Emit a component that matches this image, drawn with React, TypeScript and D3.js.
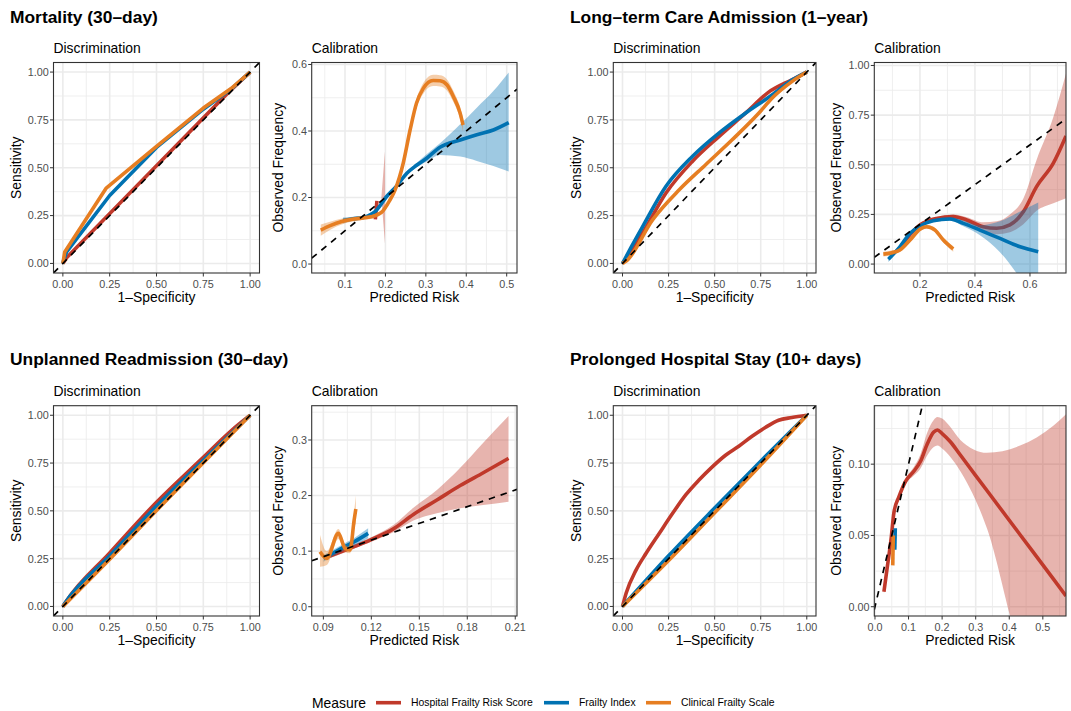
import React from 'react';
import * as d3 from 'd3';

// measures and colours
const measures = ['Hospital Frailty Risk Score', 'Frailty Index', 'Clinical Frailty Scale'];
const colours = ['#C0392B', '#0072B2', '#E67E22'];
const outcomes = ['Mortality (30–day)', 'Long–term Care Admission (1–year)', 'Unplanned Readmission (30–day)', 'Prolonged Hospital Stay (10+ days)'];

// tick values
const rocTicks = [0, 0.25, 0.5, 0.75, 1];
const mortCalXTicks = [0.1, 0.2, 0.3, 0.4, 0.5];
const mortCalYTicks = [0, 0.2, 0.4, 0.6];
const ltcCalXTicks = [0.2, 0.4, 0.6];
const ltcCalYTicks = [0, 0.25, 0.5, 0.75, 1];
const readCalXTicks = [0.09, 0.12, 0.15, 0.18, 0.21];
const readCalYTicks = [0, 0.1, 0.2, 0.3];
const prolCalXTicks = [0, 0.1, 0.2, 0.3, 0.4, 0.5];
const prolCalYTicks = [0, 0.05, 0.1];

// Mortality - ROC
const mortRocHfrsX = [0, 0.02, 0.5, 0.88, 1];
const mortRocHfrsY = [0, 0.03, 0.51, 0.89, 1];
const mortRocFiX = [0, 0.005, 0.02, 0.25, 0.5, 0.75, 0.9, 1];
const mortRocFiY = [0, 0.02, 0.06, 0.355, 0.606, 0.806, 0.912, 1];
const mortRocCfsX = [0, 0.005, 0.01, 0.23, 0.5, 0.75, 0.9, 1];
const mortRocCfsY = [0, 0.03, 0.06, 0.392, 0.612, 0.812, 0.915, 1];

// Mortality - calibration
const mortCalHfrsX = [0.175, 0.177, 0.179];
const mortCalHfrsY = [0.134, 0.162, 0.19];
const mortCalHfrsBandX = [0.19, 0.195, 0.199];
const mortCalHfrsLo = [0.2, 0.12, 0.06];
const mortCalHfrsHi = [0.2, 0.28, 0.34];
const mortCalFiX = [0.095, 0.12, 0.145, 0.178, 0.203, 0.228, 0.253, 0.277, 0.302, 0.335, 0.385, 0.426, 0.467, 0.505];
const mortCalFiY = [0.131, 0.136, 0.14, 0.162, 0.203, 0.235, 0.273, 0.297, 0.318, 0.351, 0.373, 0.389, 0.403, 0.425];
const mortCalFiLo = [0.122, 0.13, 0.134, 0.156, 0.197, 0.229, 0.267, 0.29, 0.308, 0.328, 0.323, 0.31, 0.295, 0.278];
const mortCalFiHi = [0.14, 0.142, 0.146, 0.168, 0.209, 0.241, 0.279, 0.304, 0.33, 0.363, 0.42, 0.47, 0.52, 0.576];
const mortCalCfsX = [0.04, 0.065, 0.09, 0.115, 0.14, 0.165, 0.19, 0.21, 0.224, 0.244, 0.261, 0.277, 0.294, 0.318, 0.335, 0.352, 0.368, 0.385, 0.392];
const mortCalCfsY = [0.102, 0.116, 0.127, 0.134, 0.138, 0.142, 0.155, 0.19, 0.223, 0.303, 0.403, 0.484, 0.529, 0.552, 0.551, 0.539, 0.504, 0.453, 0.418];
const mortCalCfsLo = [0.085, 0.104, 0.118, 0.127, 0.132, 0.136, 0.148, 0.183, 0.216, 0.294, 0.392, 0.471, 0.513, 0.535, 0.534, 0.522, 0.487, 0.435, 0.398];
const mortCalCfsHi = [0.119, 0.128, 0.136, 0.141, 0.144, 0.148, 0.162, 0.197, 0.23, 0.312, 0.414, 0.497, 0.545, 0.569, 0.568, 0.556, 0.521, 0.471, 0.438];

// Long-term care - ROC
const ltcRocHfrsX = [0, 0.05, 0.11, 0.236, 0.379, 0.523, 0.667, 0.793, 0.919, 1];
const ltcRocHfrsY = [0, 0.07, 0.16, 0.368, 0.533, 0.663, 0.785, 0.895, 0.96, 1];
const ltcRocFiX = [0, 0.05, 0.11, 0.236, 0.379, 0.523, 0.667, 0.811, 0.919, 1];
const ltcRocFiY = [0, 0.09, 0.194, 0.403, 0.559, 0.681, 0.785, 0.88, 0.958, 1];
const ltcRocCfsX = [0, 0.02, 0.164, 0.308, 0.451, 0.595, 0.739, 0.811, 0.919, 1];
const ltcRocCfsY = [0, 0.012, 0.229, 0.385, 0.516, 0.646, 0.785, 0.863, 0.95, 1];

// Long-term care - calibration
const ltcCalHfrsX = [0.127, 0.165, 0.2, 0.261, 0.321, 0.37, 0.43, 0.479, 0.527, 0.576, 0.624, 0.685, 0.731];
const ltcCalHfrsY = [0.079, 0.15, 0.197, 0.23, 0.239, 0.222, 0.188, 0.18, 0.197, 0.264, 0.39, 0.508, 0.645];
const ltcCalHfrsLo = [0.07, 0.14, 0.19, 0.222, 0.228, 0.208, 0.165, 0.15, 0.16, 0.2, 0.268, 0.306, 0.331];
const ltcCalHfrsHi = [0.088, 0.16, 0.205, 0.238, 0.25, 0.236, 0.21, 0.215, 0.25, 0.33, 0.524, 0.74, 0.96];
const ltcCalFiX = [0.085, 0.127, 0.164, 0.2, 0.248, 0.309, 0.358, 0.418, 0.491, 0.564, 0.63];
const ltcCalFiY = [0.024, 0.087, 0.155, 0.192, 0.218, 0.227, 0.205, 0.171, 0.129, 0.087, 0.062];
const ltcCalFiLo = [0.01, 0.077, 0.147, 0.185, 0.211, 0.218, 0.19, 0.145, 0.06, -0.07, -0.2];
const ltcCalFiHi = [0.038, 0.097, 0.163, 0.199, 0.225, 0.236, 0.22, 0.195, 0.215, 0.265, 0.31];
const ltcCalCfsX = [0.067, 0.097, 0.127, 0.164, 0.2, 0.224, 0.255, 0.285, 0.321];
const ltcCalCfsY = [0.05, 0.057, 0.071, 0.121, 0.175, 0.188, 0.171, 0.121, 0.076];
const ltcCalCfsLo = [0.038, 0.046, 0.061, 0.111, 0.165, 0.178, 0.16, 0.109, 0.062];
const ltcCalCfsHi = [0.062, 0.068, 0.081, 0.131, 0.185, 0.198, 0.182, 0.133, 0.09];

// Readmission - ROC
const readRocHfrsX = [0, 0.02, 0.25, 0.5, 0.75, 0.9, 1];
const readRocHfrsY = [0, 0.03, 0.28, 0.545, 0.78, 0.92, 1];
const readRocFiX = [0, 0.01, 0.25, 0.5, 0.75, 1];
const readRocFiY = [0, 0.015, 0.265, 0.525, 0.765, 1];
const readRocCfsX = [0, 0.25, 0.5, 0.75, 1];
const readRocCfsY = [0, 0.247, 0.502, 0.752, 1];

// Readmission - calibration
const readCalHfrsX = [0.094, 0.1046, 0.1192, 0.1338, 0.1463, 0.161, 0.1756, 0.19, 0.2058];
const readCalHfrsY = [0.091, 0.103, 0.12, 0.14, 0.166, 0.192, 0.218, 0.241, 0.267];
const readCalHfrsLo = [0.087, 0.099, 0.116, 0.134, 0.155, 0.168, 0.177, 0.183, 0.189];
const readCalHfrsHi = [0.095, 0.107, 0.124, 0.147, 0.178, 0.21, 0.25, 0.295, 0.343];
const readCalFiX = [0.0901, 0.1, 0.11, 0.118];
const readCalFiY = [0.087, 0.103, 0.118, 0.132];
const readCalFiLo = [0.081, 0.097, 0.111, 0.123];
const readCalFiHi = [0.093, 0.109, 0.125, 0.141];
const readCalCfsX = [0.0879, 0.0921, 0.0994, 0.1036, 0.1067, 0.1092, 0.1103];
const readCalCfsY = [0.099, 0.087, 0.132, 0.105, 0.102, 0.155, 0.176];
const readCalCfsLo = [0.072, 0.075, 0.122, 0.098, 0.096, 0.14, 0.15];
const readCalCfsHi = [0.129, 0.1, 0.14, 0.112, 0.108, 0.17, 0.2];

// Prolonged stay - ROC
const prolRocHfrsX = [0, 0.02, 0.074, 0.128, 0.2, 0.272, 0.343, 0.415, 0.487, 0.559, 0.631, 0.703, 0.775, 0.847, 0.919, 1];
const prolRocHfrsY = [0, 0.07, 0.191, 0.278, 0.383, 0.487, 0.583, 0.661, 0.73, 0.791, 0.838, 0.89, 0.936, 0.974, 0.988, 1];
const prolRocFiX = [0, 0.25, 0.5, 0.75, 1];
const prolRocFiY = [0, 0.265, 0.515, 0.76, 1];
const prolRocCfsX = [0, 0.25, 0.5, 0.75, 1];
const prolRocCfsY = [0, 0.24, 0.49, 0.74, 1];

// Prolonged stay - calibration
const prolCalHfrsX = [0.0267, 0.0368, 0.0487, 0.0564, 0.0712, 0.0911, 0.1157, 0.1356, 0.1555, 0.1751, 0.186, 0.2, 0.2246, 0.2543, 0.3335, 0.4323, 0.5312, 0.569];
const prolCalHfrsY = [0.0105, 0.028, 0.049, 0.066, 0.077, 0.088, 0.095, 0.102, 0.114, 0.1225, 0.124, 0.1215, 0.1157, 0.1064, 0.0815, 0.0505, 0.0195, 0.0076];
const prolCalHfrsLo = [0.009, 0.026, 0.047, 0.064, 0.075, 0.086, 0.092, 0.097, 0.106, 0.112, 0.113, 0.111, 0.105, 0.095, 0.055, -0.03, -0.07, -0.09];
const prolCalHfrsHi = [0.012, 0.03, 0.051, 0.068, 0.079, 0.09, 0.098, 0.107, 0.122, 0.131, 0.133, 0.132, 0.126, 0.117, 0.108, 0.113, 0.127, 0.135];
const prolCalFiX = [0.059, 0.0605];
const prolCalFiY = [0.04, 0.055];
const prolCalCfsX = [0.053, 0.0545];
const prolCalCfsY = [0.029, 0.05];

const W = 1071;
const H = 711;
const FONT = '"Liberation Sans", Arial, Helvetica, sans-serif';

type Series = { m: number; x: number[]; y: number[]; bx?: number[]; lo?: number[]; hi?: number[] };
type Spec = {
  id: string; left: number; right: number; top: number; bottom: number;
  xDom: [number, number]; yDom: [number, number];
  xTicks: number[]; yTicks: number[]; xFmt: (v: number) => string; yFmt: (v: number) => string;
  sub: string; xTitle: string; yTitle: string; yTitleX: number; smooth: boolean; series: Series[];
};

const f1 = d3.format('.1f');
const f2 = d3.format('.2f');
const cols = [[53.5, 259.5], [311.7, 517], [613.3, 816], [874.3, 1066]];
const rows = [[62.5, 273], [405.7, 616]];
const rocDom: [number, number] = [-0.05, 1.05];

const roc = (id: string, c: number, r: number, smooth: boolean, s: Series[]): Spec => ({
  id, left: cols[c][0], right: cols[c][1], top: rows[r][0], bottom: rows[r][1],
  xDom: rocDom, yDom: rocDom, xTicks: rocTicks, yTicks: rocTicks, xFmt: f2, yFmt: f2,
  sub: 'Discrimination', xTitle: '1–Specificity', yTitle: 'Sensitivity', yTitleX: cols[c][0] - 32.8, smooth, series: s,
});
const cal = (id: string, c: number, r: number, xDom: [number, number], yDom: [number, number], xT: number[], yT: number[], xF: any, yF: any, yTitleX: number, s: Series[]): Spec => ({
  id, left: cols[c][0], right: cols[c][1], top: rows[r][0], bottom: rows[r][1],
  xDom, yDom, xTicks: xT, yTicks: yT, xFmt: xF, yFmt: yF,
  sub: 'Calibration', xTitle: 'Predicted Risk', yTitle: 'Observed Frequency', yTitleX, smooth: true, series: s,
});

const panels: Spec[] = [
  roc('p1', 0, 0, false, [
    { m: 0, x: mortRocHfrsX, y: mortRocHfrsY },
    { m: 1, x: mortRocFiX, y: mortRocFiY },
    { m: 2, x: mortRocCfsX, y: mortRocCfsY },
  ]),
  cal('p2', 1, 0, [0.0176, 0.5255], [-0.027, 0.606], mortCalXTicks, mortCalYTicks, f1, f1, 283, [
    { m: 0, x: mortCalHfrsX, y: mortCalHfrsY, bx: mortCalHfrsBandX, lo: mortCalHfrsLo, hi: mortCalHfrsHi },
    { m: 1, x: mortCalFiX, y: mortCalFiY, lo: mortCalFiLo, hi: mortCalFiHi },
    { m: 2, x: mortCalCfsX, y: mortCalCfsY, lo: mortCalCfsLo, hi: mortCalCfsHi },
  ]),
  roc('p3', 2, 0, true, [
    { m: 0, x: ltcRocHfrsX, y: ltcRocHfrsY },
    { m: 1, x: ltcRocFiX, y: ltcRocFiY },
    { m: 2, x: ltcRocCfsX, y: ltcRocCfsY },
  ]),
  cal('p4', 3, 0, [0.034, 0.731], [-0.045, 1.015], ltcCalXTicks, ltcCalYTicks, f1, f2, 841, [
    { m: 0, x: ltcCalHfrsX, y: ltcCalHfrsY, lo: ltcCalHfrsLo, hi: ltcCalHfrsHi },
    { m: 1, x: ltcCalFiX, y: ltcCalFiY, lo: ltcCalFiLo, hi: ltcCalFiHi },
    { m: 2, x: ltcCalCfsX, y: ltcCalCfsY, lo: ltcCalCfsLo, hi: ltcCalCfsHi },
  ]),
  roc('p5', 0, 1, true, [
    { m: 0, x: readRocHfrsX, y: readRocHfrsY },
    { m: 1, x: readRocFiX, y: readRocFiY },
    { m: 2, x: readRocCfsX, y: readRocCfsY },
  ]),
  cal('p6', 1, 1, [0.0827, 0.2111], [-0.0167, 0.3617], readCalXTicks, readCalYTicks, f2, f1, 283, [
    { m: 0, x: readCalHfrsX, y: readCalHfrsY, lo: readCalHfrsLo, hi: readCalHfrsHi },
    { m: 1, x: readCalFiX, y: readCalFiY, lo: readCalFiLo, hi: readCalFiHi },
    { m: 2, x: readCalCfsX, y: readCalCfsY, lo: readCalCfsLo, hi: readCalCfsHi },
  ]),
  roc('p7', 2, 1, true, [
    { m: 0, x: prolRocHfrsX, y: prolRocHfrsY },
    { m: 1, x: prolRocFiX, y: prolRocFiY },
    { m: 2, x: prolRocCfsX, y: prolRocCfsY },
  ]),
  cal('p8', 3, 1, [-0.002, 0.569], [-0.0065, 0.141], prolCalXTicks, prolCalYTicks, f1, f2, 841, [
    { m: 0, x: prolCalHfrsX, y: prolCalHfrsY, lo: prolCalHfrsLo, hi: prolCalHfrsHi },
    { m: 1, x: prolCalFiX, y: prolCalFiY },
    { m: 2, x: prolCalCfsX, y: prolCalCfsY },
  ]),
];

function minors(ticks: number[], dom: [number, number]) {
  const step = ticks[1] - ticks[0];
  const out: number[] = [];
  for (let i = -1; i < ticks.length; i++) {
    const v = ticks[0] + (i + 0.5) * step;
    if (v >= dom[0] && v <= dom[1]) out.push(v);
  }
  return out;
}

function Panel({ p }: { p: Spec }) {
  const x = d3.scaleLinear().domain(p.xDom).range([p.left, p.right]);
  const y = d3.scaleLinear().domain(p.yDom).range([p.bottom, p.top]);
  const curve = p.smooth ? d3.curveMonotoneX : d3.curveLinear;
  const line = d3.line<number>().curve(curve);
  const clip = `clip-${p.id}`;
  const cx = (p.left + p.right) / 2;
  const cy = (p.top + p.bottom) / 2;

  return (
    <g>
      <defs>
        <clipPath id={clip}>
          <rect x={p.left} y={p.top} width={p.right - p.left} height={p.bottom - p.top} />
        </clipPath>
      </defs>
      <rect x={p.left} y={p.top} width={p.right - p.left} height={p.bottom - p.top} fill="#fff" />
      {minors(p.xTicks, p.xDom).map(v => (
        <line key={'mx' + v} x1={x(v)} x2={x(v)} y1={p.top} y2={p.bottom} stroke="#EBEBEB" strokeWidth={0.8} />
      ))}
      {minors(p.yTicks, p.yDom).map(v => (
        <line key={'my' + v} y1={y(v)} y2={y(v)} x1={p.left} x2={p.right} stroke="#EBEBEB" strokeWidth={0.8} />
      ))}
      {p.xTicks.map(v => (
        <line key={'gx' + v} x1={x(v)} x2={x(v)} y1={p.top} y2={p.bottom} stroke="#EBEBEB" strokeWidth={1.6} />
      ))}
      {p.yTicks.map(v => (
        <line key={'gy' + v} y1={y(v)} y2={y(v)} x1={p.left} x2={p.right} stroke="#EBEBEB" strokeWidth={1.6} />
      ))}
      <g clipPath={`url(#${clip})`}>
        {p.series.map((s, i) => {
          const col = colours[s.m];
          const bx = s.bx || s.x;
          const area = d3.area<number>()
            .x((_, j) => x(bx[j]))
            .y0(d => y(d))
            .y1((_, j) => y(s.hi ? s.hi[j] : 0))
            .curve(curve);
          const pts = s.x.map((v, j) => [x(v), y(s.y[j])] as [number, number]);
          return (
            <g key={i}>
              {s.lo && s.hi && <path d={area(s.lo) || ''} fill={col} fillOpacity={0.38} stroke="none" />}
              <path d={line(pts as any) || ''} fill="none" stroke={col} strokeWidth={3.6} strokeLinejoin="round" />
            </g>
          );
        })}
        <line x1={x(p.xDom[0])} y1={y(p.xDom[0])} x2={x(p.xDom[1])} y2={y(p.xDom[1])}
          stroke="#000" strokeWidth={1.7} strokeDasharray="6.5 6" />
      </g>
      <rect x={p.left} y={p.top} width={p.right - p.left} height={p.bottom - p.top} fill="none" stroke="#333333" strokeWidth={1.1} />
      {p.xTicks.map(v => (
        <g key={'tx' + v}>
          <line x1={x(v)} x2={x(v)} y1={p.bottom} y2={p.bottom + 3.5} stroke="#333333" strokeWidth={1} />
          <text x={x(v)} y={p.bottom + 14.5} textAnchor="middle" fontSize={10.8} fill="#4D4D4D">{p.xFmt(v)}</text>
        </g>
      ))}
      {p.yTicks.map(v => (
        <g key={'ty' + v}>
          <line x1={p.left - 3.5} x2={p.left} y1={y(v)} y2={y(v)} stroke="#333333" strokeWidth={1} />
          <text x={p.left - 4.8} y={y(v)} dy="0.36em" textAnchor="end" fontSize={10.8} fill="#4D4D4D">{p.yFmt(v)}</text>
        </g>
      ))}
      <text x={p.left} y={p.top - 9.5} fontSize={13.9} fill="#000">{p.sub}</text>
      <text x={cx} y={p.bottom + 29} textAnchor="middle" fontSize={13.9} fill="#000">{p.xTitle}</text>
      <text transform={`translate(${p.yTitleX},${cy}) rotate(-90)`} textAnchor="middle" fontSize={13.9} fill="#000">{p.yTitle}</text>
    </g>
  );
}

function Legend() {
  const ly = 702.7;
  const keyX = [376, 544, 646];
  return (
    <g>
      <text x={312} y={ly + 5} fontSize={13.9} fill="#000">Measure</text>
      {measures.map((m, i) => (
        <g key={m}>
          <line x1={keyX[i]} x2={keyX[i] + 25} y1={ly} y2={ly} stroke={colours[i]} strokeWidth={3.6} />
          <text x={keyX[i] + 35} y={ly + 3.7} fontSize={10.4} fill="#000">{m}</text>
        </g>
      ))}
    </g>
  );
}

export default function App() {
  const titleX = [10, 570];
  const titleY = [22.7, 365];
  return (
    <svg width={W} height={H} style={{ position: 'absolute', left: 0, top: 0, background: '#fff' }} fontFamily={FONT}>
      <rect width={W} height={H} fill="#fff" />
      {outcomes.map((t, i) => (
        <text key={t} x={titleX[i % 2]} y={titleY[Math.floor(i / 2)]} fontSize={17.4} fontWeight="bold" fill="#000">{t}</text>
      ))}
      {panels.map(p => <Panel key={p.id} p={p} />)}
      <Legend />
    </svg>
  );
}
